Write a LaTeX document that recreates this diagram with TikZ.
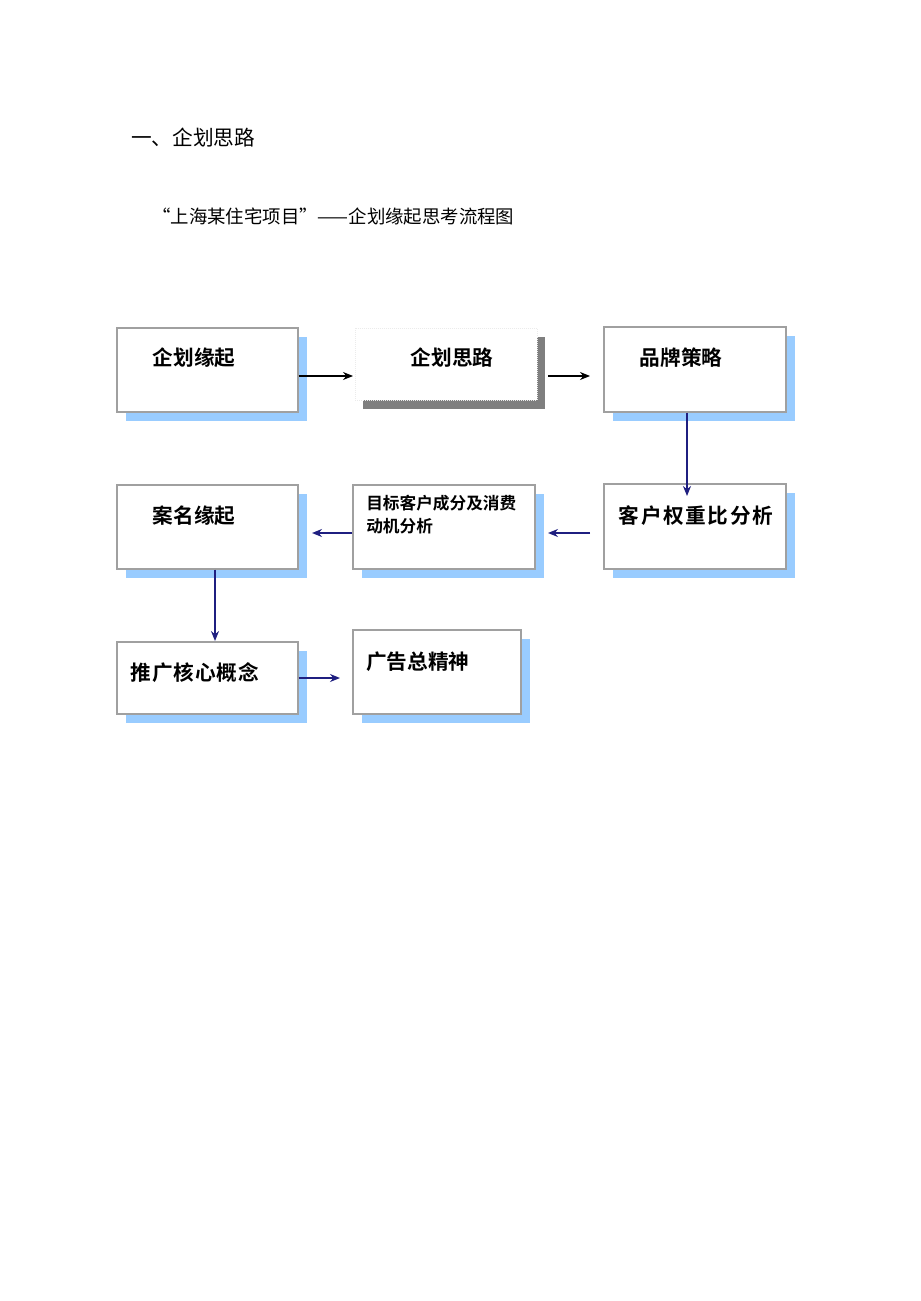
\documentclass[tikz,border=0pt]{standalone}
\usepackage{fontspec}
\newfontfamily\cjk{Noto Sans CJK SC}
\newfontfamily\cjkb{Noto Sans CJK SC Bold}
\usetikzlibrary{arrows.meta,fit,shadows}
\definecolor{shblue}{HTML}{99CCFF}
\definecolor{shgray}{HTML}{7F7F7F}
\definecolor{bordergray}{HTML}{A0A0A0}
\definecolor{navy}{HTML}{1F1F80}
\tikzset{
  box/.style={draw=bordergray, line width=0.9pt, fill=white, inner sep=0pt,
    general shadow={fill=shblue, draw=none, shadow xshift=6.75pt, shadow yshift=-6.75pt}},
  graybox/.style={draw=black!8, line width=0.5pt, densely dotted, fill=white, inner sep=0pt,
    general shadow={fill=shgray, draw=none, solid, shadow xshift=6pt, shadow yshift=-6.5pt}},
  lbl/.style={font=\cjkb\fontsize{15.5}{18}\selectfont, inner sep=0pt},
  lblsmall/.style={font=\cjkb\fontsize{12.5}{17}\selectfont, inner sep=0pt, align=left},
  blk/.style={-{Stealth[length=7.5pt,width=6pt]}, line width=1pt, black},
  nav/.style={-{Stealth[length=7.5pt,width=6pt]}, line width=1pt, navy},
}
\begin{document}
\begin{tikzpicture}[x=0.75pt,y=-0.75pt]
\useasboundingbox (0,0) rectangle (920,1301);
% headings
\node[anchor=west, inner sep=0pt, font=\cjk\fontsize{15.5}{18}\selectfont] (h1) at (131,138) {一、企划思路};
\node[anchor=west, inner sep=0pt, font=\cjk\fontsize{13.8}{16}\selectfont] (h2) at (152,216) {“上海某住宅项目”——企划缘起思考流程图};
% boxes
\coordinate (a1) at (117,328); \coordinate (a2) at (298,412);
\node[box, fit=(a1)(a2)] (b1) {};
\coordinate (c1) at (355,328); \coordinate (c2) at (537,400);
\node[graybox, fit=(c1)(c2)] (b2) {};
\coordinate (d1) at (604,327); \coordinate (d2) at (786,412);
\node[box, fit=(d1)(d2)] (b3) {};
\coordinate (e1) at (604,484); \coordinate (e2) at (786,569);
\node[box, fit=(e1)(e2)] (b4) {};
\coordinate (f1) at (353,485); \coordinate (f2) at (535,569);
\node[box, fit=(f1)(f2)] (b5) {};
\coordinate (g1) at (117,485); \coordinate (g2) at (298,569);
\node[box, fit=(g1)(g2)] (b6) {};
\coordinate (k1) at (117,642); \coordinate (k2) at (298,714);
\node[box, fit=(k1)(k2)] (b7) {};
\coordinate (m1) at (353,630); \coordinate (m2) at (521,714);
\node[box, fit=(m1)(m2)] (b8) {};
% labels
\node[lbl] (t1) at (194,358) {企划缘起};
\node[lbl] (t2) at (452,358) {企划思路};
\node[lbl] (t3) at (681,358) {品牌策略};
\node[lbl, font=\cjkb\fontsize{15.5}{18}\selectfont\addfontfeatures{LetterSpace=8}] (t4) at (696,516) {客户权重比分析};
\node[lblsmall, anchor=north west] (t5) at (366,495) {目标客户成分及消费\\动机分析};
\node[lbl] (t6) at (194,516) {案名缘起};
\node[lbl, font=\cjkb\fontsize{15.5}{18}\selectfont\addfontfeatures{LetterSpace=4}] (t7) at (195,673) {推广核心概念};
\node[lbl, anchor=west] (t8) at (366,662) {广告总精神};
% connectors
\coordinate (p12) at (353,376);
\draw[blk] (b1.east |- p12) -- (p12);
\coordinate (p23s) at (548,376); \coordinate (p23e) at (590,376);
\draw[blk] (p23s) -- (p23e);
\coordinate (p34) at (687,496);
\draw[nav] (b3.south -| p34) -- (p34);
\coordinate (p45s) at (590,533); \coordinate (p45e) at (548,533);
\draw[nav] (p45s) -- (p45e);
\coordinate (p56) at (312,533);
\draw[nav] (b5.west |- p56) -- (p56);
\coordinate (p67) at (215,641);
\draw[nav] (b6.south -| p67) -- (p67);
\coordinate (p78) at (340,678);
\draw[nav] (b7.east |- p78) -- (p78);
\end{tikzpicture}
\end{document}
